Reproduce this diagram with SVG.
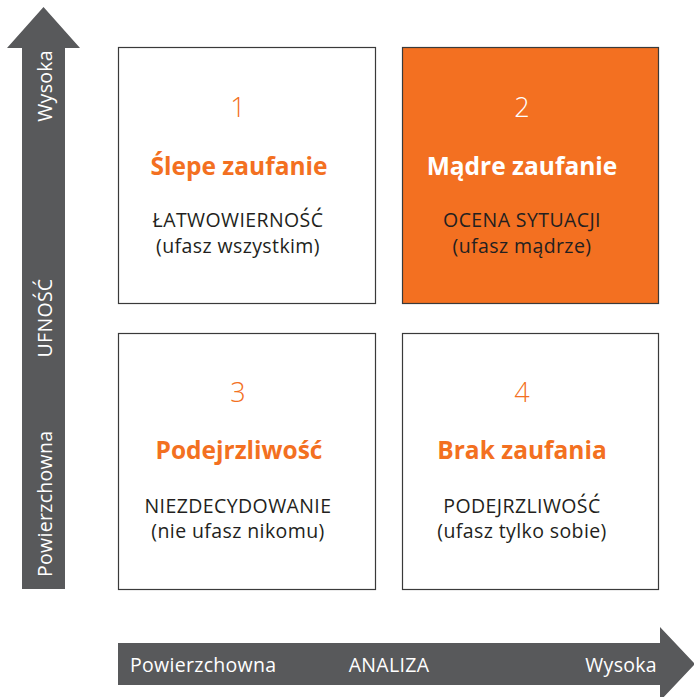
<svg xmlns="http://www.w3.org/2000/svg" width="694" height="697" viewBox="0 0 694 697">
<style>
.box{fill:#fff;stroke:#3a3a3a;stroke-width:1.2}
.hot{fill:#F37021;stroke:#3a3a3a;stroke-width:1.2}
.num{font-family:"Open Sans","Noto Sans",sans-serif;font-size:27px;font-weight:300;fill:#F37021;text-anchor:middle}
.ttl{font-family:"Open Sans","Noto Sans",sans-serif;font-size:24.5px;font-weight:700;fill:#F37021;text-anchor:middle}
.txt{font-family:"Open Sans","Noto Sans",sans-serif;font-size:19.5px;letter-spacing:0.4px;fill:#231F20;text-anchor:middle}
.ax{font-family:"Open Sans","Noto Sans",sans-serif;font-size:19.5px;letter-spacing:0.3px;fill:#fff}
.arrow{fill:#58595B}
</style>
<g id="connectors">
<polygon class="arrow" points="22,589 22,48 7,48 43.5,7 80,48 65,48 65,589"/>
<polygon class="arrow" points="118,643 660,643 660,627 695,664 660,701 660,685 118,685"/>
</g>
<g id="axis-y">
<text class="ax" transform="translate(52,50) rotate(-90)" text-anchor="end">Wysoka</text>
<text class="ax" transform="translate(52,318) rotate(-90)" text-anchor="middle">UFNOŚĆ</text>
<text class="ax" transform="translate(52,577) rotate(-90)">Powierzchowna</text>
</g>
<g id="axis-x">
<text class="ax" x="130" y="672">Powierzchowna</text>
<text class="ax" x="389" y="672" text-anchor="middle">ANALIZA</text>
<text class="ax" x="657" y="672" text-anchor="end">Wysoka</text>
</g>
<g id="q1">
<rect class="box" x="118.5" y="47.5" width="257" height="256"/>
<text class="num" x="238" y="117">1</text>
<text class="ttl" x="239" y="175">Ślepe zaufanie</text>
<text class="txt" x="238" y="227">ŁATWOWIERNOŚĆ</text>
<text class="txt" x="238" y="253">(ufasz wszystkim)</text>
</g>
<g id="q2">
<rect class="hot" x="402.5" y="47.5" width="256" height="256"/>
<text class="num" x="522" y="117" style="fill:#fff">2</text>
<text class="ttl" x="522" y="175" style="fill:#fff">Mądre zaufanie</text>
<text class="txt" x="522" y="227">OCENA SYTUACJI</text>
<text class="txt" x="522" y="253">(ufasz mądrze)</text>
</g>
<g id="q3">
<rect class="box" x="118.5" y="333.5" width="257" height="256"/>
<text class="num" x="238" y="402">3</text>
<text class="ttl" x="239" y="459">Podejrzliwość</text>
<text class="txt" x="238" y="513">NIEZDECYDOWANIE</text>
<text class="txt" x="238" y="538">(nie ufasz nikomu)</text>
</g>
<g id="q4">
<rect class="box" x="402.5" y="333.5" width="256" height="256"/>
<text class="num" x="522" y="402">4</text>
<text class="ttl" x="522" y="459">Brak zaufania</text>
<text class="txt" x="522" y="513">PODEJRZLIWOŚĆ</text>
<text class="txt" x="522" y="538">(ufasz tylko sobie)</text>
</g>
</svg>
